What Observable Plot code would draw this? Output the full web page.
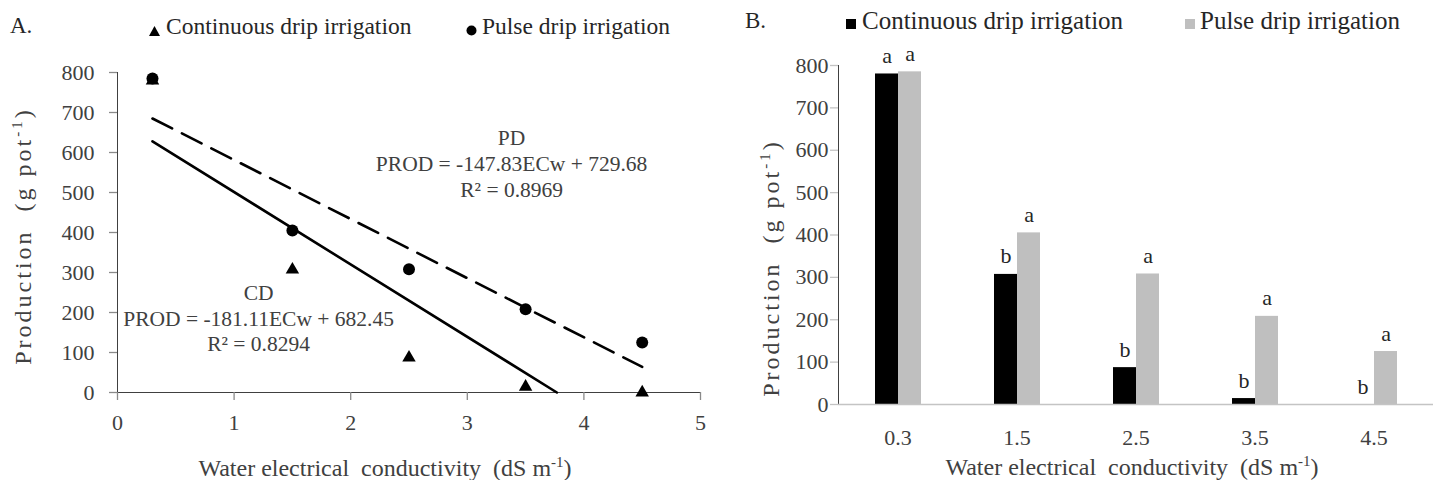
<!DOCTYPE html>
<html><head><meta charset="utf-8">
<script src="https://cdn.jsdelivr.net/npm/d3@7"></script>
<script src="https://cdn.jsdelivr.net/npm/@observablehq/plot@0.6"></script>
<style>
body{margin:0;background:#fff;}
#wrap{position:relative;width:1446px;height:480px;overflow:hidden;background:#fff;font-family:"Liberation Serif","Times New Roman",serif;color:#262626;}
.t{position:absolute;white-space:nowrap;font-size:22px;line-height:1;}
#pa,#pb{position:absolute;top:48px;}
#pa{left:0}
#pb{left:720px}
#pa svg text,#pb svg text{font-family:"Liberation Serif","Times New Roman",serif;}
#pa svg g[aria-label*="axis"] path,#pa svg g[aria-label*="axis"] line{stroke:#8a8a8a;stroke-width:1.3;}
#pb svg g[aria-label*="axis"] path,#pb svg g[aria-label*="axis"] line{stroke:#c4c4c4;stroke-width:1.3;}
</style></head>
<body><div id="wrap"><div id="pa"></div><div id="pb"></div></div>
<script>
// ---- data ----
const ecValues = [0.3, 1.5, 2.5, 3.5, 4.5];
const ecLabels = ["0.3", "1.5", "2.5", "3.5", "4.5"];
const seriesNames = ["Continuous drip irrigation", "Pulse drip irrigation"];
const cdProd = [780, 307, 87, 14, 0];
const pdProd = [785, 405, 308, 208, 125];
const cdLetters = ["a", "b", "b", "b", "b"];
const pdLetters = ["a", "a", "a", "a", "a"];
const cdFitEC = [0.3, 3.768];
const cdFitProd = [628, 0];
const pdFitEC = [0.3, 4.5];
const pdFitProd = [685, 64];
const eqTexts = ["PD\nPROD = -147.83ECw + 729.68\nR\u00b2 = 0.8969", "CD\nPROD = -181.11ECw + 682.45\nR\u00b2 = 0.8294"];
const eqEC = [3.38, 1.21];
const eqProd = [574, 188];
const xTicksA = [0, 1, 2, 3, 4, 5];
const yTicks = [0, 100, 200, 300, 400, 500, 600, 700, 800];

// ---- tables ----
const cdPts = ecValues.map((e, i) => ({ec: e, prod: cdProd[i]}));
const pdPts = ecValues.map((e, i) => ({ec: e, prod: pdProd[i]}));
const cdFit = cdFitEC.map((e, i) => ({ec: e, prod: cdFitProd[i]}));
const pdFit = pdFitEC.map((e, i) => ({ec: e, prod: pdFitProd[i]}));
const eqs = eqTexts.map((t, i) => ({text: t, ec: eqEC[i], prod: eqProd[i]}));
const barData = [];
ecLabels.forEach((l, i) => {
  barData.push({ec: l, series: seriesNames[0], prod: cdProd[i], letter: cdLetters[i]});
  barData.push({ec: l, series: seriesNames[1], prod: pdProd[i], letter: pdLetters[i]});
});

const font = '"Liberation Serif", "Times New Roman", serif';

const plotA = Plot.plot({
  width: 720, height: 432,
  marginLeft: 117, marginRight: 20, marginTop: 24, marginBottom: 88,
  style: {fontFamily: font, fontSize: "22px", color: "#404040", background: "transparent", overflow: "visible"},
  x: {domain: [0, 5], ticks: xTicksA, tickFormat: d3.format("d"), tickSize: 8, tickPadding: 14, label: null, line: true},
  y: {domain: [0, 800], ticks: yTicks, tickFormat: d3.format("d"), tickSize: 8, tickPadding: 15, label: null, line: true},
  marks: [
    Plot.line(cdFit, {x: "ec", y: "prod", stroke: "#000", strokeWidth: 2.6}),
    Plot.line(pdFit, {x: "ec", y: "prod", stroke: "#000", strokeWidth: 2.6, strokeDasharray: "22,11"}),
    Plot.dot(cdPts, {x: "ec", y: "prod", symbol: "triangle", r: 5, fill: "#000", stroke: null}),
    Plot.dot(pdPts, {x: "ec", y: "prod", symbol: "circle", r: 6, fill: "#000", stroke: null}),
    Plot.text(eqs, {x: "ec", y: "prod", text: "text", fontSize: 21.5, lineHeight: 1.2, textAnchor: "middle", fill: "#404040"})
  ]
});
document.getElementById("pa").appendChild(plotA);

const plotB = Plot.plot({
  width: 726, height: 432,
  marginLeft: 117, marginRight: 13, marginTop: 17, marginBottom: 76,
  style: {fontFamily: font, fontSize: "22px", color: "#404040", background: "transparent", overflow: "visible"},
  fx: {domain: ecLabels, padding: 0, label: null, tickSize: 0, tickPadding: 25, axis: "bottom"},
  x: {domain: seriesNames, paddingInner: 0, paddingOuter: 1.48, axis: null},
  y: {domain: [0, 800], ticks: yTicks, tickFormat: d3.format("d"), tickSize: 8, tickPadding: 2, label: null, line: true},
  color: {domain: seriesNames, range: ["#000000", "#bfbfbf"]},
  marks: [
    Plot.barY(barData, {fx: "ec", x: "series", y: "prod", fill: "series"}),
    Plot.ruleY([0], {stroke: "#c4c4c4", strokeWidth: 1.3}),
    Plot.text(barData, {fx: "ec", x: "series", y: "prod", text: "letter", lineAnchor: "bottom", dy: -11, fontSize: 22, fill: "#262626"})
  ]
});
document.getElementById("pb").appendChild(plotB);

// ---- HTML text: panel labels, legends, axis titles ----
const wrap = document.getElementById("wrap");
function addText(html, cx, cy, opts = {}) {
  const d = document.createElement("div");
  d.className = "t";
  d.innerHTML = html;
  d.style.left = cx + "px";
  d.style.top = cy + "px";
  const anchor = opts.anchor || "middle";
  const tx = anchor === "start" ? "0" : anchor === "end" ? "-100%" : "-50%";
  d.style.transform = `translate(${tx},-50%)` + (opts.rotate ? " rotate(-90deg)" : "");
  if (opts.rotate) d.style.transformOrigin = "50% 50%";
  if (opts.ls) d.style.letterSpacing = opts.ls;
  if (opts.color) d.style.color = opts.color;
  if (opts.size) d.style.fontSize = opts.size + "px";
  wrap.appendChild(d);
  return d;
}
function addSymbol(svgInner, cx, cy, w, h) {
  const d = document.createElement("div");
  d.style.position = "absolute";
  d.style.left = (cx - w / 2) + "px";
  d.style.top = (cy - h / 2) + "px";
  d.innerHTML = `<svg width="${w}" height="${h}" viewBox="0 0 ${w} ${h}">${svgInner}</svg>`;
  wrap.appendChild(d);
}
const yTitle = "Production&nbsp;&nbsp;(g pot<sup style=\"font-size:15px\">-1</sup>)";
const xTitle = "Water electrical&nbsp;&nbsp;conductivity&nbsp;&nbsp;(dS m<sup style=\"font-size:15px\">-1</sup>)";
// Panel A
addText("A.", 10, 25, {anchor: "start", size: 23});
addSymbol('<path d="M5.5,0 L11,10 L0,10 Z" fill="#000"/>', 154, 27, 11, 10);
addText(seriesNames[0], 166, 27, {anchor: "start", size: 23.5});
addSymbol('<circle cx="5.5" cy="5.5" r="5" fill="#000"/>', 471, 27, 11, 11);
addText(seriesNames[1], 482, 27, {anchor: "start", size: 23.5});
addText(yTitle, 22, 236, {rotate: true, color: "#404040", ls: "3px", size: 24});
addText(xTitle, 385, 467, {color: "#404040", size: 24});
// Panel B
addText("B.", 745, 20, {anchor: "start", size: 23});
addSymbol('<rect width="10" height="10" fill="#000"/>', 851, 20, 10, 10);
addText(seriesNames[0], 862, 20, {anchor: "start", size: 25});
addSymbol('<rect width="10" height="10" fill="#bfbfbf"/>', 1190, 20, 10, 10);
addText(seriesNames[1], 1200, 20, {anchor: "start", size: 25});
addText(yTitle, 770, 268, {rotate: true, color: "#404040", ls: "3px", size: 24});
addText(xTitle, 1132, 466, {color: "#404040", size: 24});
</script></body></html>
